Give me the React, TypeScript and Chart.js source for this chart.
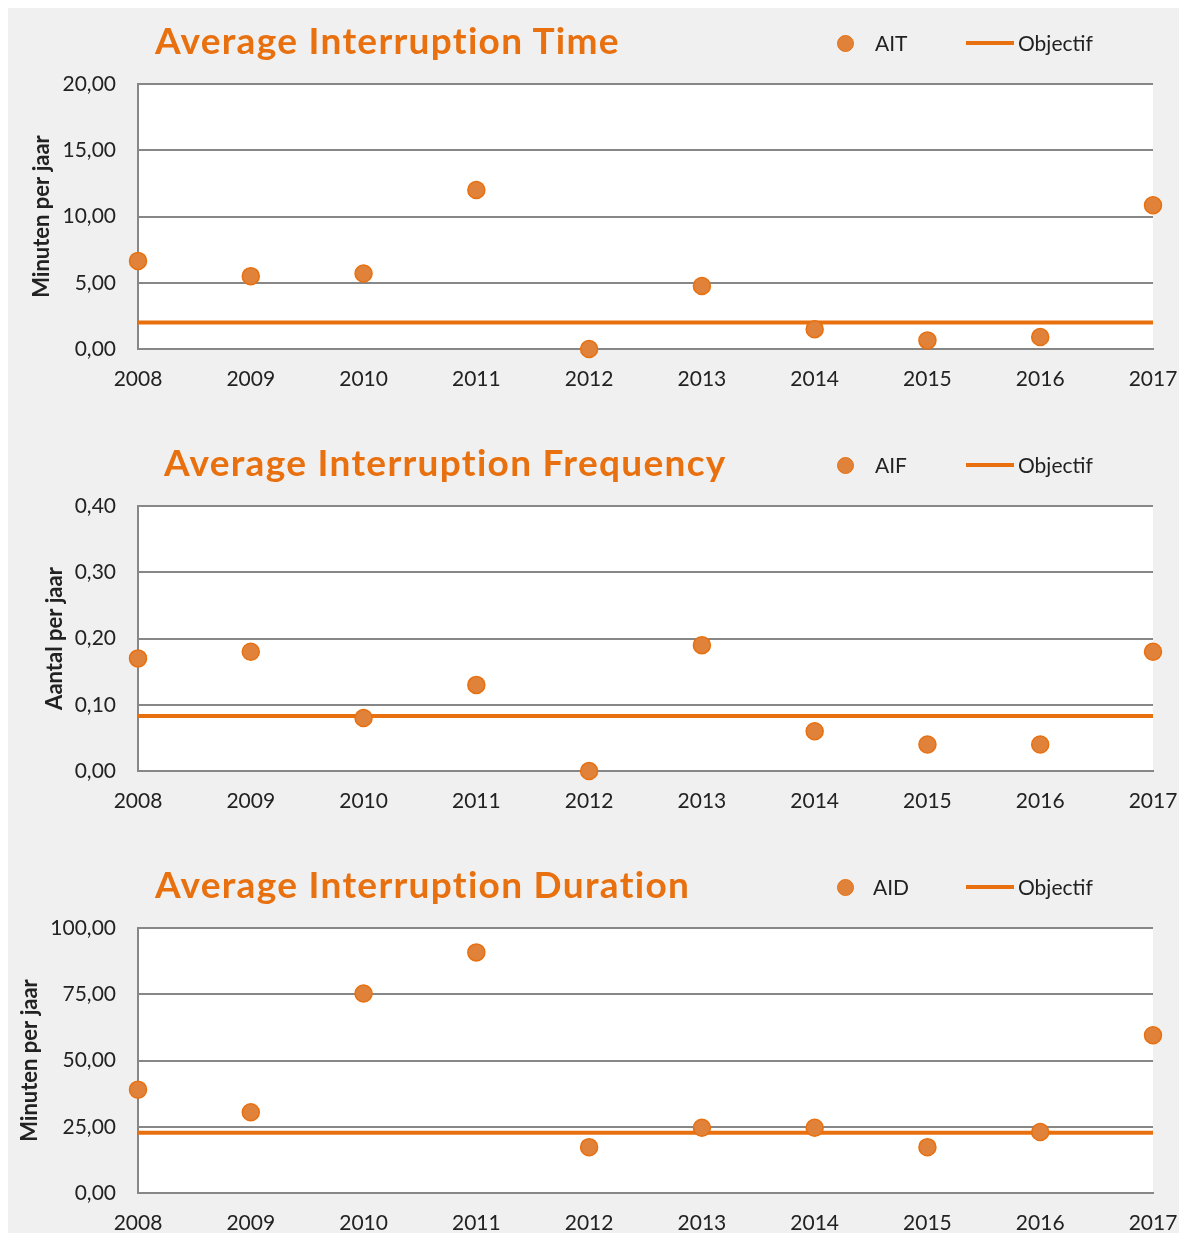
import React, { useEffect, useRef } from 'react';
import { Chart, registerables } from 'chart.js';

Chart.register(...registerables);

// ---------- data ----------
const years = ['2008', '2009', '2010', '2011', '2012', '2013', '2014', '2015', '2016', '2017'];

const aitValues = [6.65, 5.5, 5.7, 12.0, 0.0, 4.75, 1.5, 0.65, 0.9, 10.85];
const aitObjective = [2.0, 2.0, 2.0, 2.0, 2.0, 2.0, 2.0, 2.0, 2.0, 2.0];

const aifValues = [0.17, 0.18, 0.08, 0.13, 0.0, 0.19, 0.06, 0.04, 0.04, 0.18];
const aifObjective = [0.083, 0.083, 0.083, 0.083, 0.083, 0.083, 0.083, 0.083, 0.083, 0.083];

const aidValues = [39.0, 30.5, 75.3, 90.8, 17.3, 24.6, 24.6, 17.3, 23.0, 59.5];
const aidObjective = [22.7, 22.7, 22.7, 22.7, 22.7, 22.7, 22.7, 22.7, 22.7, 22.7];

const panelTitles = ['Average Interruption Time', 'Average Interruption Frequency', 'Average Interruption Duration'];
const seriesLabels = ['AIT', 'AIF', 'AID'];
const objectiveLabel = 'Objectif';
const yTitles = ['Minuten per jaar', 'Aantal per jaar', 'Minuten per jaar'];
const yMaxes = [20, 0.4, 100];
const ySteps = [5, 0.1, 25];

// ---------- styles ----------
const FONT = 'Lato, "Open Sans", sans-serif';
const ORANGE = '#E8700F';
const POINT_FILL = '#E0823A';
const GRID = '#878787';
const TEXT = '#222222';
const BG = '#f0f0f0';

const CANVAS_W = 1179;
const CANVAS_H = 422;

const whiteArea = {
  id: 'whiteArea',
  beforeDraw(chart: any) {
    const { ctx, chartArea } = chart;
    ctx.save();
    ctx.fillStyle = '#ffffff';
    ctx.fillRect(chartArea.left, chartArea.top, chartArea.right - chartArea.left, chartArea.bottom - chartArea.top);
    ctx.restore();
  },
};

type PanelProps = {
  title: string;
  titleLeft: number;
  seriesLabel: string;
  values: number[];
  objective: number[];
  yTitle: string;
  yMax: number;
  yStep: number;
  padLeft: number;
  legendTextLeft: number;
  height: number;
};

function Panel(p: PanelProps) {
  const ref = useRef<HTMLCanvasElement | null>(null);

  useEffect(() => {
    if (!ref.current) return;
    const chart = new Chart(ref.current, {
      type: 'line',
      data: {
        labels: years,
        datasets: [
          {
            label: p.seriesLabel,
            data: p.values,
            showLine: false,
            pointRadius: 8.5,
            pointHoverRadius: 8.5,
            pointBackgroundColor: POINT_FILL,
            pointBorderColor: ORANGE,
            pointBorderWidth: 1.5,
            borderColor: ORANGE,
            backgroundColor: POINT_FILL,
            clip: false as any,
          },
          {
            label: objectiveLabel,
            data: p.objective,
            borderColor: ORANGE,
            borderWidth: 4,
            pointRadius: 0,
            fill: false,
            tension: 0,
            clip: false as any,
          },
        ],
      },
      options: {
        animation: false,
        responsive: false,
        maintainAspectRatio: false,
        devicePixelRatio: 1,
        layout: { padding: { left: p.padLeft, right: 34, top: 76, bottom: 36 } },
        plugins: {
          legend: { display: false },
          title: { display: false },
          tooltip: { enabled: false },
        },
        scales: {
          x: {
            type: 'category',
            offset: false,
            grid: { display: false, drawTicks: false },
            border: { display: true, color: GRID, width: 2 },
            ticks: {
              color: TEXT,
              font: { family: FONT, size: 21 },
              padding: 18,
              maxRotation: 0,
              autoSkip: false,
            },
            afterFit: (s: any) => {
              s.height = 45;
              s.paddingLeft = 0;
              s.paddingRight = 0;
            },
          },
          y: {
            min: 0,
            max: p.yMax,
            grid: { color: GRID, lineWidth: 2, drawTicks: false },
            border: { display: true, color: GRID, width: 2 },
            ticks: {
              stepSize: p.yStep,
              color: TEXT,
              font: { family: FONT, size: 21 },
              padding: 22,
              callback: (v: any) => Number(v).toFixed(2).replace('.', ','),
            },
            title: {
              display: true,
              text: p.yTitle,
              color: TEXT,
              font: { family: FONT, size: 22, weight: 'bold' },
              padding: 0,
            },
            afterFit: (s: any) => {
              s.width = 130 - p.padLeft;
            },
          },
        },
      },
      plugins: [whiteArea],
    });
    return () => chart.destroy();
  }, []);

  const legendText: React.CSSProperties = {
    position: 'absolute',
    top: 35,
    transform: 'translateY(-50%)',
    fontFamily: FONT,
    fontSize: 21,
    lineHeight: '24px',
    color: TEXT,
    whiteSpace: 'nowrap',
  };

  return (
    <div style={{ position: 'relative', width: CANVAS_W, height: p.height, overflow: 'hidden' }}>
      <canvas
        ref={ref}
        width={CANVAS_W}
        height={CANVAS_H}
        style={{ display: 'block', width: CANVAS_W, height: CANVAS_H }}
      />
      <div
        style={{
          position: 'absolute',
          left: p.titleLeft,
          top: 32,
          transform: 'translateY(-50%)',
          fontFamily: FONT,
          fontWeight: 'bold',
          fontSize: 37,
          letterSpacing: '1.3px',
          lineHeight: '42px',
          color: ORANGE,
          whiteSpace: 'nowrap',
        }}
      >
        {p.title}
      </div>
      <div
        style={{
          position: 'absolute',
          left: 829,
          top: 35 - 8.5,
          width: 17,
          height: 17,
          borderRadius: '50%',
          background: POINT_FILL,
          border: `1.5px solid ${ORANGE}`,
          boxSizing: 'border-box',
        }}
      />
      <div style={{ ...legendText, left: p.legendTextLeft }}>{p.seriesLabel}</div>
      <div
        style={{
          position: 'absolute',
          left: 958,
          top: 33,
          width: 48,
          height: 4,
          background: ORANGE,
        }}
      />
      <div style={{ ...legendText, left: 1010 }}>{objectiveLabel}</div>
    </div>
  );
}

export default function App() {
  const valueSets = [aitValues, aifValues, aidValues];
  const objectiveSets = [aitObjective, aifObjective, aidObjective];
  const titleLefts = [147, 156, 147];
  const padLefts = [21, 34, 9];
  const legendLefts = [867, 867, 865];
  const heights = [CANVAS_H, CANVAS_H, 1225 - 2 * CANVAS_H];
  return (
    <div style={{ background: BG, width: CANVAS_W, height: 1225, overflow: 'hidden' }}>
      {panelTitles.map((t, i) => (
        <Panel
          key={t}
          title={t}
          titleLeft={titleLefts[i]}
          seriesLabel={seriesLabels[i]}
          values={valueSets[i]}
          objective={objectiveSets[i]}
          yTitle={yTitles[i]}
          yMax={yMaxes[i]}
          yStep={ySteps[i]}
          padLeft={padLefts[i]}
          legendTextLeft={legendLefts[i]}
          height={heights[i]}
        />
      ))}
    </div>
  );
}
